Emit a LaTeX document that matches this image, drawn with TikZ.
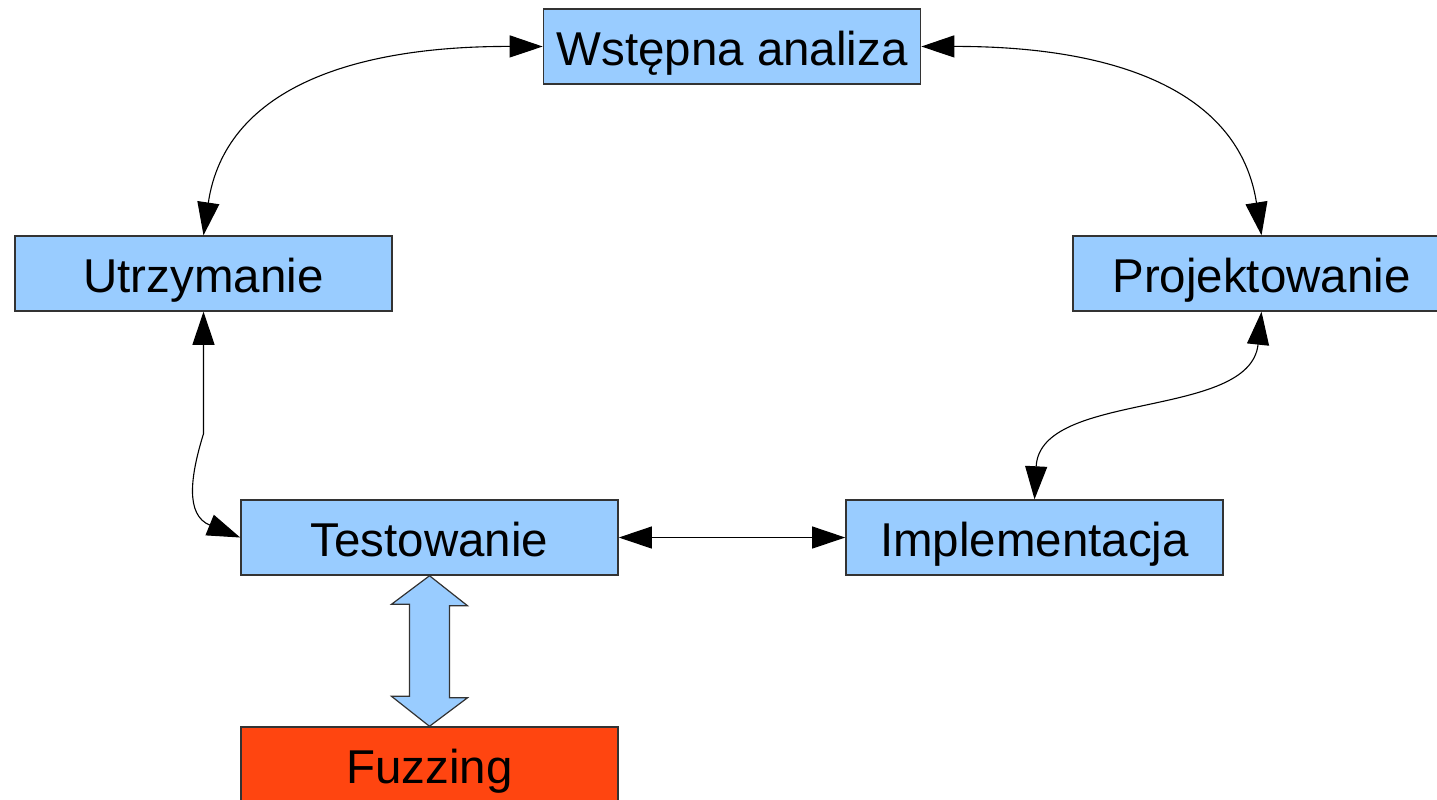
\documentclass[tikz,border=0pt]{standalone}
\usepackage{fontspec}
\setmainfont{Liberation Sans}
\usetikzlibrary{arrows.meta}
\definecolor{boxblue}{HTML}{99CCFF}
\definecolor{fuzzred}{HTML}{FF4510}
\definecolor{edgegray}{HTML}{333333}
\tikzset{
  phase/.style={draw=edgegray, line width=0.014cm, fill=boxblue,
    minimum width=3.77cm, minimum height=0.75cm, inner sep=0pt,
    text height=0.45cm, text depth=0.08cm,
    font=\fontsize{13.5}{16}\selectfont},
  link/.style={line width=0.011cm, {Triangle[length=0.33cm,width=0.22cm]}-{Triangle[length=0.33cm,width=0.22cm]}},
  fatarrow/.style={draw=edgegray, line width=0.012cm, fill=boxblue, line join=miter}
}
\begin{document}
\begin{tikzpicture}[x=0.01cm, y=-0.01cm]
            \useasboundingbox (0,0) rectangle (1437,799);
            
            % Drawing phase boxes
            \node [phase] (analiza) at (732.0,46.5) {Wstępna analiza};%
            \node [phase] (utrzym) at (203.5,273.5) {Utrzymanie};%
            \node [phase] (projekt) at (1261.5,273.5) {Projektowanie};%
            \node [phase] (test) at (429.5,537.5) {Testowanie};%
            \node [phase] (impl) at (1034.5,537.5) {Implementacja};%
            
            % Drawing box Fuzzing
            \node [phase, fill=fuzzred] (fuzz) at (429.5,764.5) {Fuzzing};%
            
            % Drawing link Utrzymanie Wstepna analiza
            \draw [link] (utrzym.north) .. controls (225,90) and (350,46) .. (analiza.west);%
            
            % Drawing link Wstepna analiza Projektowanie
            \draw [link] (analiza.east) .. controls (1114,46) and (1239,90) .. (projekt.north);%
            
            % Drawing link Projektowanie Implementacja
            \draw [link] (projekt.south) .. controls (1250,420) and (1040,390) .. (impl.north);%
            
            % Drawing link Testowanie Implementacja
            \draw [link] (test.east) -- (impl.west);%
            
            % Drawing link Utrzymanie Testowanie
            \draw [link] (utrzym.south) -- ++(0,122) .. controls +(-13,42) and (185,515) .. (test.west);%
            
            % Drawing fat arrow Testowanie Fuzzing
            \draw [fatarrow] (test.south) -- ++(38,30) -- ++(-18,0) -- ++(0,92)
              -- ++(18,0) -- (fuzz.north) -- ++(-38,-30) -- ++(18,0)
              -- ++(0,-92) -- ++(-18,0) -- cycle;%
\end{tikzpicture}
\end{document}
